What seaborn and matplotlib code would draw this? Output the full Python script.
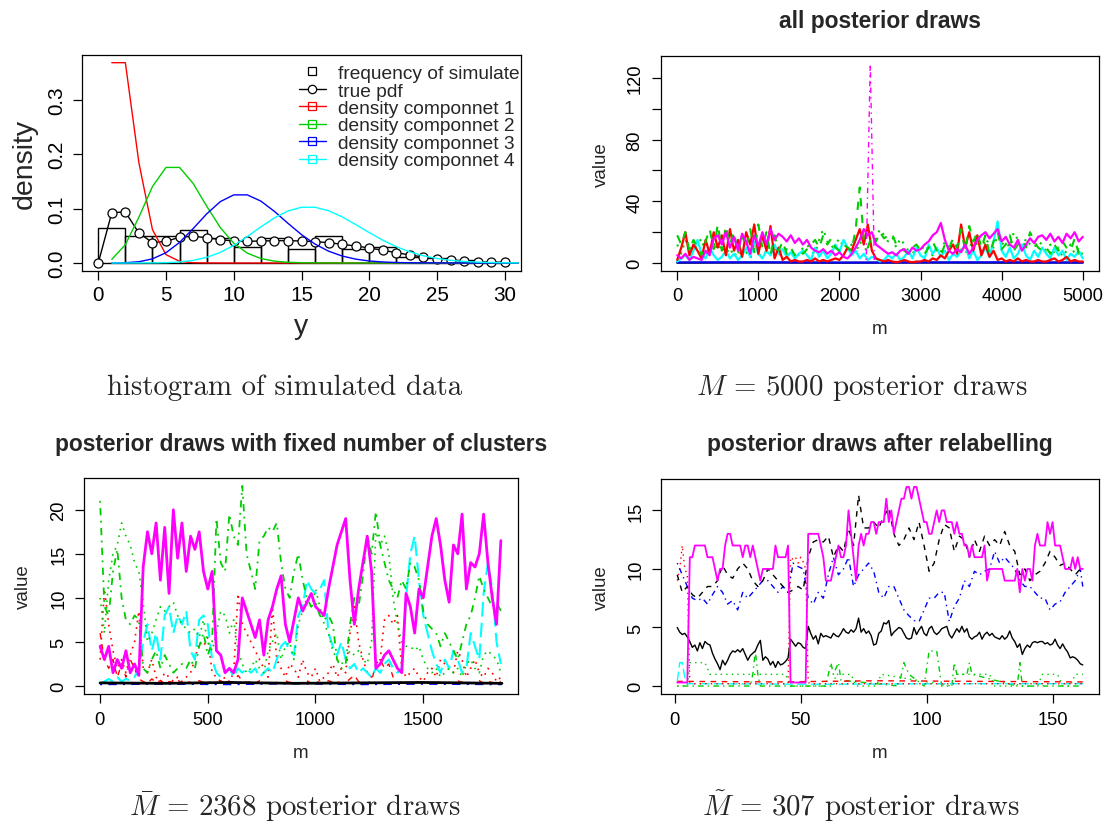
import numpy as np
import matplotlib
matplotlib.use("Agg")
import matplotlib.pyplot as plt
import seaborn as sns
from matplotlib.lines import Line2D

sns.set_style("ticks")
plt.rcParams['font.family'] = ['Liberation Sans', 'DejaVu Sans']
plt.rcParams['mathtext.fontset'] = 'cm'
plt.rcParams['axes.linewidth'] = 0.9

# R default palette + line types
COL = {'black': '#000000', 'red': '#FF0000', 'green': '#00CD00',
       'blue': '#0000FF', 'cyan': '#00FFFF', 'magenta': '#FF00FF'}
LTY = {'solid': '-', 'dashed': (0, (4, 4)), 'dotted': (0, (1, 3)),
       'dotdash': (0, (1, 3, 4, 3)), 'longdash': (0, (7, 3))}

# ---------------- panel 1: histogram of simulated data ----------------
hist_edges = [0, 2, 4, 6, 8, 10, 12, 14, 16, 18, 20, 22, 24, 26, 28, 30]
hist_dens = [0.065, 0.05, 0.05, 0.06, 0.045, 0.03, 0.045, 0.026, 0.05, 0.025,
             0.03, 0.011, 0.009, 0.005, 0.0]
pdf_y = list(range(0, 31))
true_pdf = [0.0, 0.0925, 0.0937, 0.055, 0.0374, 0.0398, 0.0472, 0.049, 0.0465, 0.0429,
            0.0404, 0.0398, 0.0404, 0.041, 0.041, 0.0404, 0.0392, 0.0374, 0.0343, 0.0312,
            0.0276, 0.0233, 0.019, 0.0147, 0.011, 0.008, 0.0055, 0.0037, 0.0024, 0.0018,
            0.0012]
comp_y = list(range(1, 32))
comp1 = [0.3679, 0.3679, 0.1839, 0.0613, 0.0153, 0.0031, 0.0005, 0.0001, 0.0, 0.0,
         0.0, 0.0, 0.0, 0.0, 0.0, 0.0, 0.0, 0.0, 0.0, 0.0,
         0.0, 0.0, 0.0, 0.0, 0.0, 0.0, 0.0, 0.0, 0.0, 0.0, 0.0]
comp2 = [0.0067, 0.0337, 0.0842, 0.1404, 0.1755, 0.1755, 0.1462, 0.1044, 0.0653, 0.0363,
         0.0181, 0.0082, 0.0034, 0.0013, 0.0005, 0.0002, 0.0001, 0.0, 0.0, 0.0,
         0.0, 0.0, 0.0, 0.0, 0.0, 0.0, 0.0, 0.0, 0.0, 0.0, 0.0]
comp3 = [0.0000, 0.0005, 0.0023, 0.0076, 0.0189, 0.0378, 0.0631, 0.0901, 0.1126, 0.1251,
         0.1251, 0.1137, 0.0948, 0.0729, 0.0521, 0.0347, 0.0217, 0.0128, 0.0071, 0.0037,
         0.0019, 0.0009, 0.0004, 0.0002, 0.0001, 0.0, 0.0, 0.0, 0.0, 0.0, 0.0]
comp4 = [0.0, 0.0, 0.0, 0.0002, 0.0006, 0.0019, 0.0048, 0.0104, 0.0194, 0.0324,
         0.0486, 0.0663, 0.0829, 0.0956, 0.1024, 0.1024, 0.0960, 0.0847, 0.0706, 0.0558,
         0.0418, 0.0299, 0.0204, 0.0133, 0.0083, 0.0050, 0.0029, 0.0016, 0.0009, 0.0004,
         0.0002]
legend_labels = ['frequency of simulate', 'true pdf', 'density componnet 1',
                 'density componnet 2', 'density componnet 3', 'density componnet 4']

# ---------------- panel 2: all posterior draws (m = 0..5000 by 50) ----------------
tr_m = np.arange(0, 5001, 50)
tr_magenta = [5, 3, 6, 2, 4, 3, 2, 8, 5, 16, 18,
              12, 20, 10, 17, 8, 19, 14, 6, 18, 11,
              20, 12, 22, 15, 19, 17, 14, 18, 13, 16,
              12, 15, 10, 8, 7, 9, 6, 8, 5, 7,
              4, 3, 6, 10, 15, 22, 18, 20, 12, 10,
              8, 6, 7, 5, 8, 9, 6, 10, 8, 9,
              12, 14, 18, 20, 26, 15, 8, 6, 9, 7,
              12, 6, 10, 15, 18, 20, 16, 19, 22, 14,
              17, 12, 10, 15, 8, 12, 16, 13, 17, 18,
              15, 19, 14, 17, 13, 19, 16, 20, 14, 17]
tr_green = [18, 12, 20, 8, 15, 10, 5, 14, 22, 9, 25,
            8, 24, 12, 20, 6, 18, 10, 22, 7, 25,
            10, 20, 5, 18, 8, 14, 6, 10, 5, 8,
            6, 9, 12, 15, 10, 18, 12, 16, 10, 8,
            12, 10, 8, 22, 49, 15, 10, 18, 14, 20,
            16, 18, 19, 12, 10, 8, 6, 10, 12, 8,
            6, 10, 14, 8, 5, 12, 9, 16, 10, 22,
            8, 24, 14, 20, 10, 18, 6, 14, 20, 9,
            12, 18, 8, 12, 15, 10, 20, 14, 10, 8,
            10, 6, 12, 8, 14, 10, 8, 16, 6, 10]
tr_red = [2, 10, 20, 5, 12, 8, 3, 15, 6, 20, 10,
          18, 5, 22, 8, 15, 4, 20, 12, 25, 6,
          18, 8, 24, 3, 10, 2, 4, 1, 2, 1,
          1, 2, 1, 3, 1, 2, 1, 2, 3, 2,
          5, 10, 8, 15, 22, 12, 25, 8, 3, 2,
          1, 2, 1, 0.5, 1, 2, 1, 0.5, 1, 1,
          2, 1, 3, 2, 5, 3, 8, 12, 6, 25,
          10, 20, 8, 18, 5, 12, 4, 8, 2, 3,
          1, 2, 1, 3, 1, 2, 1, 1, 2, 1,
          1, 2, 3, 1, 2, 4, 1, 2, 1, 1]
tr_cyan = [1, 3, 5, 2, 8, 15, 6, 3, 10, 5, 2,
           4, 8, 3, 6, 2, 5, 10, 4, 14, 6,
           3, 8, 5, 12, 6, 9, 4, 7, 3, 6,
           8, 5, 2, 10, 4, 8, 3, 6, 12, 7,
           15, 10, 5, 8, 3, 6, 2, 4, 3, 1,
           2, 5, 3, 6, 2, 4, 8, 3, 10, 5,
           3, 12, 6, 10, 4, 8, 2, 6, 4, 8,
           12, 3, 8, 2, 5, 10, 4, 14, 27, 8,
           4, 10, 3, 6, 12, 5, 2, 8, 4, 10,
           6, 3, 10, 5, 8, 2, 6, 4, 8, 3]
tr_green2 = [12, 6, 15, 10, 8, 12, 16, 5, 10, 14, 8,
             12, 6, 10, 4, 8, 5, 7, 3, 9, 6,
             4, 8, 6, 10, 5, 7, 9, 6, 8, 5,
             10, 12, 8, 6, 15, 22, 14, 10, 12, 16,
             10, 8, 12, 6, 14, 10, 8, 12, 16, 22,
             18, 14, 17, 10, 16, 12, 8, 6, 10, 7,
             12, 8, 5, 10, 7, 14, 10, 6, 12, 8,
             6, 10, 14, 12, 8, 16, 12, 10, 18, 12,
             14, 10, 20, 15, 8, 16, 12, 10, 14, 12,
             8, 12, 6, 10, 4, 8, 12, 6, 10, 5]
tr_flat_m = [0, 1000, 2000, 3000, 4000, 5000]
tr_blue = [0.4, 0.5, 0.3, 0.4, 0.5, 0.3]
tr_black = [0.2, 0.3, 0.2, 0.3, 0.2, 0.3]
tr_spike_m = [2330, 2380, 2430]
tr_spike = [2, 129, 2]

# ---------------- panel 3: fixed number of clusters (m = 1..1861 by 20) ----------------
bl_m = np.arange(1, 1862, 20)
bl_magenta = [4.5, 3, 4.5, 1.5, 3, 2, 4, 1.5, 2.5, 1.2,
              13.5, 17.5, 15, 18.5, 12, 18, 10.5, 20, 14.5, 18.5,
              13, 17, 15.5, 17.5, 13, 11, 13, 4, 3.5, 1.5,
              2, 1.5, 3, 10, 8.5, 7, 5.5, 7.5, 3.5, 7.5,
              9, 11, 12.5, 7, 5, 7.5, 10, 8.5, 9.5, 10.5,
              9, 8.5, 8, 11, 13.5, 16, 17.5, 19, 12, 7,
              11, 14, 17, 13, 2, 2.5, 3.5, 4, 3, 2,
              1.5, 10.5, 9, 6, 11, 10, 13.5, 17, 19, 16,
              12, 9.5, 16, 15, 19.5, 11, 14, 13.5, 15, 19.5,
              14, 10, 7, 16.5]
bl_green_dd = [21, 9, 8, 13, 15.5, 10, 7.5, 7, 8, 7.5,
               2, 1.5, 3, 4, 2, 3.5, 2.5, 1.5, 2, 2.5,
               2, 3, 2, 4.5, 6, 3.5, 5, 19, 14, 13,
               19.5, 17, 16, 22.7, 15, 13, 11, 16.5, 17, 18,
               17.5, 18.5, 14, 11, 10, 13, 15, 12, 10, 9,
               9.5, 8, 7.5, 8, 7, 3, 2, 2.5, 7, 10,
               9, 12.5, 17, 15, 19.8, 16, 14, 12, 11, 10,
               12, 11, 14, 13.5, 12, 8.5, 7, 6.5, 6, 4.5,
               6, 5, 4, 3, 5, 7, 8, 10, 12.5, 11,
               10, 9, 9.5, 8.5]
bl_green_dot = [10, 6, 12, 15, 16, 18.5, 17, 16, 14, 13,
                9.5, 5, 6, 7.5, 9, 8.5, 9, 9.5, 8, 7,
                6.5, 6, 6.5, 5.5, 7.5, 5, 4, 6, 8.5, 8,
                6, 7.5, 4, 2.5, 1.5, 2, 3, 2, 1.5, 4,
                5, 6, 3, 4.5, 5, 3, 7, 8.5, 10, 9,
                11, 9, 7, 6, 4, 3, 2.5, 3, 4, 3.5,
                4, 3, 2.5, 5, 17.5, 16, 17, 15, 10, 7,
                5, 4.5, 4.5, 4, 4.5, 3, 2, 1.5, 2, 1,
                1.5, 2, 1.5, 2, 1, 2.5, 3, 2, 1.5, 3.5,
                4, 3.5, 3, 1.5]
bl_cyan = [0.3, 0.5, 0.8, 0.5, 1, 0.5, 0.8, 0.6, 1, 2,
           5, 7, 4, 6, 3, 8, 9, 6, 8, 7,
           8.5, 4, 3, 7.5, 8, 7, 3, 1.5, 1, 1.5,
           2, 1, 2, 1.5, 2, 1.5, 2, 1, 1.5, 2,
           1.5, 3, 4.5, 5, 4, 3.5, 8, 9, 12, 11,
           10.5, 11, 12, 6, 4.5, 3.5, 5, 3, 2, 2.5,
           1.5, 2, 1.5, 1, 2, 1.5, 2.5, 3, 2, 1.5,
           2, 10, 15, 17, 12, 8, 6, 4, 2.5, 1.5,
           3, 2, 4, 3, 1.5, 2, 6, 4.5, 3, 10.5,
           14, 11, 5, 2.5]
bl_red_dot = [3, 11, 7, 4, 2, 3, 1.5, 3.5, 5, 8.5,
              2, 1.5, 3, 1, 0.5, 1.5, 1, 0.5, 1, 0.5,
              1, 1.5, 3, 5, 4.5, 5.5, 1.5, 1, 0.5, 1,
              0.5, 1.5, 10.5, 7, 6, 5, 4, 3, 2, 1,
              9, 3, 2, 1, 2.5, 2, 1, 3, 1.5, 1,
              2, 0.5, 1, 1.5, 2.5, 1, 2, 1.5, 6, 9,
              5, 3, 1.5, 1, 2, 3, 7.5, 8, 7, 8,
              2, 1, 1.5, 2, 1, 0.5, 1.5, 2, 1, 3,
              2.5, 2, 1.5, 4, 3, 1, 2, 3, 1.5, 1,
              2, 1.5, 0.5, 1]
bl_red_dash = [6, 3, 2, 3, 1, 2.5, 1, 3, 2, 0.8,
               0.5, 0.3, 0.8, 0.4, 0.6, 0.3, 0.5, 0.4, 0.7, 0.3,
               0.5, 0.4, 0.3, 0.6, 0.4, 0.5, 0.3, 0.4, 0.6, 0.3,
               0.5, 0.4, 1.2, 0.6, 0.4, 0.5, 0.3, 0.6, 0.4, 0.3,
               0.5, 0.4, 0.3, 0.6, 0.4, 0.5, 0.3, 0.4, 0.6, 0.3,
               0.5, 0.4, 0.3, 0.6, 0.4, 0.5, 0.3, 0.4, 0.8, 1.2,
               0.5, 0.4, 0.3, 0.6, 2.5, 3, 2, 2.5, 1, 0.3,
               0.5, 0.4, 0.3, 0.6, 0.4, 0.5, 0.3, 0.4, 0.6, 0.3,
               0.5, 0.4, 0.3, 0.6, 0.4, 0.5, 0.3, 0.4, 0.6, 0.3,
               0.5, 0.4, 0.3, 0.5]
bl_flat_m = [1, 300, 600, 900, 1200, 1500, 1866]
bl_black = [0.35, 0.3, 0.4, 0.3, 0.35, 0.4, 0.3]
bl_blue = [0.2, 0.25, 0.2, 0.3, 0.2, 0.25, 0.2]

# ---------------- panel 4: after relabelling (m = 1..162) ----------------
br_m = np.arange(1, 163)
br_magenta = [0.3, 0.3, 0.3, 0.3, 0.3, 11, 11, 12, 12, 12,
              12, 12, 11, 11, 11, 10, 9, 10, 10, 12,
              13, 13, 12, 12, 12, 12, 11, 12, 12, 11,
              12, 11, 10, 9, 10, 10, 10, 10, 10, 12,
              11, 11, 11, 11, 12, 0.3, 0.3, 0.3, 0.3, 0.3,
              0.3, 0.3, 13, 13, 13, 13, 13, 12, 11, 9,
              9, 9, 10, 11, 12, 11, 11, 12, 15, 13,
              11, 9, 12, 13, 12, 13, 13, 14, 14, 13,
              14, 14, 14, 16, 14, 15, 13, 14, 15, 16,
              16, 17, 17, 16, 17, 17, 16, 15, 14, 14,
              13, 13, 14, 15, 14, 15, 15, 14, 14, 14,
              13, 14, 13, 13, 12, 12, 11, 12, 11, 11,
              11, 11, 12, 9, 10, 10, 10, 10, 10, 10,
              9, 9, 9, 9, 9, 10, 8, 10, 9, 10,
              10, 9, 12, 13, 12, 12, 12, 14, 13, 14,
              12, 12, 12, 11, 10, 10, 10, 11, 10, 11,
              10, 10]
br_black = [5, 4.6, 4.4, 4.5, 4.2, 3.8, 3.3, 3.5, 3, 3.7,
            3.2, 3.8, 3.6, 3.5, 2.8, 2.3, 1.9, 1.4, 2.2, 1.8,
            2.2, 2.7, 3, 2.9, 3.1, 2.9, 3.2, 2.7, 2.2, 2.6,
            2.8, 3, 3.5, 3.9, 2.2, 2.5, 2.3, 1.8, 2.1, 1.6,
            2.1, 1.8, 1.9, 2.1, 2.4, 4, 3.7, 3.4, 3.7, 3.6,
            3.3, 3.2, 5.1, 4.5, 4, 4.3, 3.6, 4.5, 4.2, 4.3,
            4.2, 4.1, 4.5, 4.3, 4.2, 4.5, 4.9, 4.6, 4.5, 4.8,
            4.6, 4.9, 5.8, 4.6, 4.9, 4.5, 4.7, 4.3, 3.5, 3.6,
            4.5, 4.7, 5.4, 5.3, 5.6, 4.3, 4.6, 4.8, 5, 4.9,
            4.5, 4.1, 4, 4.1, 5, 4.4, 4.8, 5.1, 4.5, 4.3,
            4.9, 5.1, 4.6, 4.4, 4.6, 4.9, 5, 5.1, 4.4, 4.1,
            4.5, 4.9, 4.6, 5.1, 4.6, 4.9, 4.2, 4, 4.2, 4.3,
            4.6, 4, 4.4, 4.6, 4.3, 4.5, 4.2, 4.1, 4, 4.3,
            4, 4.2, 4.7, 4.1, 3.8, 3.3, 3.6, 2.7, 3.2, 3.5,
            3.3, 3.7, 3.8, 3.7, 3.8, 3.8, 3.6, 3.7, 3.5, 3.6,
            4, 3.5, 3.2, 3.6, 3.2, 2.9, 2.4, 2.5, 2.4, 2.2,
            1.9, 1.8]
br_odd_m = list(range(1, 162, 2)) + [162]
br_black_dash = [9.5, 8, 8.5, 7.8, 7.5, 8, 8.5, 8.5, 9, 10.3,
                 9.5, 9.2, 10, 10.5, 10, 9, 8.5, 9, 10, 9.5,
                 9, 8.5, 8, 8.2, 8.5, 8.2, 11, 12.3, 12.5, 12.3,
                 12.8, 11, 12, 11.5, 13.5, 12, 16.3, 13.5, 13.5, 14,
                 13.5, 14.5, 15.2, 13, 12, 12.5, 13.5, 12.5, 14, 12,
                 9.8, 10.5, 12.5, 13.8, 13.5, 11.5, 12.8, 12.5, 11, 12.5,
                 11.5, 12.8, 12, 12.5, 12, 13.2, 12, 11.5, 9.5, 10,
                 9, 9.5, 9.8, 10.5, 11.5, 11, 10.3, 10.5, 10, 9.5,
                 10, 10]
br_blue = [10.5, 9.5, 8.5, 7.5, 7.3, 7.5, 7, 7.8, 8.5, 8,
           7, 7.3, 6.5, 8, 7.5, 8, 8.5, 9, 9, 8.5,
           8, 8.5, 8, 10.5, 10.2, 10, 7.5, 7, 8, 7.5,
           9.5, 11, 9.5, 10, 11, 8.5, 9.5, 10, 10.5, 9.8,
           8, 7.5, 8.5, 8.5, 7.5, 6.5, 6, 5.6, 5.5, 6.5,
           7.5, 7.5, 8, 8, 5.5, 6.8, 7.5, 9, 8.5, 9.8,
           9.5, 9.8, 10, 11.5, 10.5, 11, 10.5, 10, 9, 8.5,
           8.5, 8, 7.5, 7.5, 6.5, 7, 7.2, 8, 8.5, 9,
           10, 8.5]
br_red_dot_m = [1, 2, 3, 4, 5, 6, 7, 45, 46, 47, 48, 49, 50, 51, 52, 53, 54, 162]
br_red_dot = [9, 10, 12, 10, 9.5, 0.3, 0.2, 0.2, 11, 10.8, 11, 10.5, 11, 10.6, 10, 0.3, 0.2, 0.2]
br_red_dash_m = [1, 40, 80, 120, 162]
br_red_dash = [0.4, 0.35, 0.45, 0.4, 0.35]
br_cyan_m = [1, 2, 3, 4, 5, 6, 60, 110, 162]
br_cyan = [0.4, 2, 2, 0.8, 0.2, 0.2, 0.15, 0.2, 0.2]
br_gdot_m = [1, 5, 6, 12, 14, 16, 44, 46, 63, 64, 70, 72, 80, 82, 110, 112, 125,
             127, 144, 146, 152, 154, 157, 159, 162]
br_gdot = [0, 0, 2, 2, 1, 1, 1, 0, 0, 1, 1, 0, 0, 1, 0, 1, 1,
           0, 0, 1, 1, 0, 0, 1, 1]
br_gdd_m = [1, 30, 31, 32, 33, 34, 60, 62, 63, 65, 66, 89, 91, 93, 99, 101, 104,
            106, 110, 111, 112, 116, 117, 118, 136, 137, 138, 162]
br_gdd = [0, 0, 1, 3, 1, 0, 0, 2, 1, 2, 0.5, 0, 2, 1, 0, 3, 3,
          0, 0, 2, 1, 1, 2, 1, 0, 2, 0, 0]


def trace(ax, x, y, col, lty='solid', lw=1.0, **kw):
    sns.lineplot(x=x, y=y, ax=ax, color=COL[col], linestyle=LTY[lty],
                 linewidth=lw, estimator=None, errorbar=None, sort=False, **kw)


def r_axes(ax, tick_fs, xpad, ypad):
    for s in ax.spines.values():
        s.set_visible(True)
        s.set_color('black')
    ax.grid(False)
    ax.tick_params(direction='out', length=6.5, width=0.9, colors='black',
                   labelsize=tick_fs)
    ax.tick_params(axis='x', pad=xpad)
    ax.tick_params(axis='y', pad=ypad, labelrotation=90)
    for lab in ax.get_yticklabels():
        lab.set_va('center')


W, H = 1107, 828
fig = plt.figure(figsize=(W / 100, H / 100), dpi=100)


def add_ax(l, r, t, b):
    return fig.add_axes([l / W, 1 - b / H, (r - l) / W, (b - t) / H])


# ===== panel 1 =====
ax1 = add_ax(82, 521, 56, 272)
hist_mid = [(a + b) / 2 for a, b in zip(hist_edges[:-1], hist_edges[1:])]
sns.histplot(x=hist_mid, weights=hist_dens, bins=hist_edges, stat='count',
             fill=False, color='black', linewidth=1.0, ax=ax1)
sns.lineplot(x=pdf_y, y=true_pdf, ax=ax1, color='black', linewidth=1.0,
             marker='o', markersize=6.5, markerfacecolor='white',
             markeredgecolor='black', markeredgewidth=0.9,
             estimator=None, errorbar=None, sort=False)
for comp, c in zip([comp1, comp2, comp3, comp4], ['red', 'green', 'blue', 'cyan']):
    trace(ax1, comp_y, comp, c)
ax1.set_xlim(-1.2, 31.2)
ax1.set_ylim(-0.0147, 0.382)
ax1.set_xticks([0, 5, 10, 15, 20, 25, 30])
ax1.set_yticks([0.0, 0.1, 0.2, 0.3])
ax1.set_yticklabels(['0.0', '0.1', '0.2', '0.3'])
r_axes(ax1, 14.9, 3.4, 4.5)
ax1.set_xlabel('y', fontsize=20.5, va='top')
ax1.set_ylabel('density', fontsize=20.5)
ax1.xaxis.set_label_coords(0.5, -0.195)
ax1.yaxis.set_label_coords(-0.100, 0.5)

handles = [Line2D([], [], linestyle='none', marker='s', markersize=6,
                  markerfacecolor='none', markeredgecolor='black', markeredgewidth=0.9),
           Line2D([], [], color='black', lw=1, marker='o', markersize=6,
                  markerfacecolor='white', markeredgecolor='black', markeredgewidth=0.9)]
for c in ['red', 'green', 'blue', 'cyan']:
    handles.append(Line2D([], [], color=COL[c], lw=1, marker='s', markersize=6,
                          markerfacecolor='none', markeredgecolor=COL[c],
                          markeredgewidth=0.9))
ax1.legend(handles, legend_labels, loc='upper left', bbox_to_anchor=(0.494, 0.955),
           frameon=False, fontsize=13.8, handlelength=1.4, handletextpad=0.65,
           labelspacing=0.0, borderpad=0, borderaxespad=0)

# ===== panel 2 =====
ax2 = add_ax(661, 1099, 57, 272)
trace(ax2, tr_flat_m, tr_black, 'black', lw=1.5)
trace(ax2, tr_flat_m, tr_blue, 'blue', lw=1.5)
trace(ax2, tr_m, tr_green2, 'green', 'dotted', lw=1.5)
trace(ax2, tr_m, tr_cyan, 'cyan', 'solid', lw=1.6)
trace(ax2, tr_m, tr_red, 'red', 'solid', lw=1.6)
trace(ax2, tr_m, tr_green, 'green', 'dashed', lw=1.5)
trace(ax2, tr_m, tr_magenta, 'magenta', 'solid', lw=1.6)
trace(ax2, tr_spike_m, tr_spike, 'magenta', 'dotdash', lw=1.0)
ax2.set_xlim(-200, 5200)
ax2.set_ylim(-5.16, 134.2)
ax2.set_xticks([0, 1000, 2000, 3000, 4000, 5000])
ax2.set_yticks([0, 20, 40, 60, 80, 100, 120])
ax2.set_yticklabels(['0', '', '40', '', '80', '', '120'])
r_axes(ax2, 13.2, 4.8, 6.1)
ax2.set_xlabel('m', fontsize=13.5, va='top')
ax2.set_ylabel('value', fontsize=13.5)
ax2.xaxis.set_label_coords(0.5, -0.228)
ax2.yaxis.set_label_coords(-0.1176, 0.5)

# ===== panel 3 =====
ax3 = add_ax(84, 518, 479, 695)
trace(ax3, bl_m, bl_red_dash, 'red', 'dashed')
trace(ax3, bl_m, bl_red_dot, 'red', 'dotted', lw=1.2)
trace(ax3, bl_m, bl_cyan, 'cyan', 'longdash', lw=1.5)
trace(ax3, bl_m, bl_green_dot, 'green', 'dotted', lw=1.2)
trace(ax3, bl_m, bl_green_dd, 'green', 'dotdash', lw=1.3)
trace(ax3, bl_m, bl_magenta, 'magenta', 'solid', lw=2.0)
trace(ax3, bl_flat_m, bl_blue, 'blue', 'dotdash', lw=1.5)
trace(ax3, bl_flat_m, bl_black, 'black', 'solid', lw=2.0)
ax3.set_xlim(-73.6, 1940.6)
ax3.set_ylim(-0.91, 23.6)
ax3.set_xticks([0, 500, 1000, 1500])
ax3.set_yticks([0, 5, 10, 15, 20])
r_axes(ax3, 13.2, 5.5, 5.4)
ax3.set_xlabel('m', fontsize=13.5, va='top')
ax3.set_ylabel('value', fontsize=13.5)
ax3.xaxis.set_label_coords(0.5, -0.2326)
ax3.yaxis.set_label_coords(-0.120, 0.5)

# ===== panel 4 =====
ax4 = add_ax(661, 1099, 480, 695)
trace(ax4, br_gdot_m, br_gdot, 'green', 'dotted')
trace(ax4, br_gdd_m, br_gdd, 'green', 'dotdash')
trace(ax4, br_red_dash_m, br_red_dash, 'red', 'dashed')
trace(ax4, br_cyan_m, br_cyan, 'cyan', 'longdash')
trace(ax4, br_red_dot_m, br_red_dot, 'red', 'dotted')
trace(ax4, br_m, br_black, 'black', 'solid')
trace(ax4, br_odd_m, br_blue, 'blue', 'dotdash')
trace(ax4, br_odd_m, br_black_dash, 'black', 'dashed')
trace(ax4, br_m, br_magenta, 'magenta', 'solid', lw=1.3)
ax4.set_xlim(-5.44, 168.44)
ax4.set_ylim(-0.68, 17.68)
ax4.set_xticks([0, 50, 100, 150])
ax4.set_yticks([0, 5, 10, 15])
r_axes(ax4, 13.2, 5.5, 5.4)
ax4.set_xlabel('m', fontsize=13.5, va='top')
ax4.set_ylabel('value', fontsize=13.5)
ax4.xaxis.set_label_coords(0.5, -0.2326)
ax4.yaxis.set_label_coords(-0.1176, 0.5)

# titles
tkw = dict(fontsize=16.4, fontweight='bold', ha='center', va='center')
fig.text(880 / W, 1 - 21.5 / H, 'all posterior draws', **tkw)
fig.text(301 / W, 1 - 444 / H, 'posterior draws with fixed number of clusters', **tkw)
fig.text(880 / W, 1 - 444 / H, 'posterior draws after relabelling', **tkw)

# sub-captions
ckw = dict(fontsize=20.8, family='cmr10', ha='center', va='baseline')
fig.text(285 / W, 1 - 395 / H, 'histogram of simulated data', **ckw)
fig.text(862 / W, 1 - 395 / H, r'$M\,=\,5000$ posterior draws', **ckw)
fig.text(295 / W, 1 - 816 / H, r'$\bar{M}\,=\,2368$ posterior draws', **ckw)
fig.text(861 / W, 1 - 816 / H, r'$\tilde{M}\,=\,307$ posterior draws', **ckw)

fig.savefig('out.png', dpi=100)
